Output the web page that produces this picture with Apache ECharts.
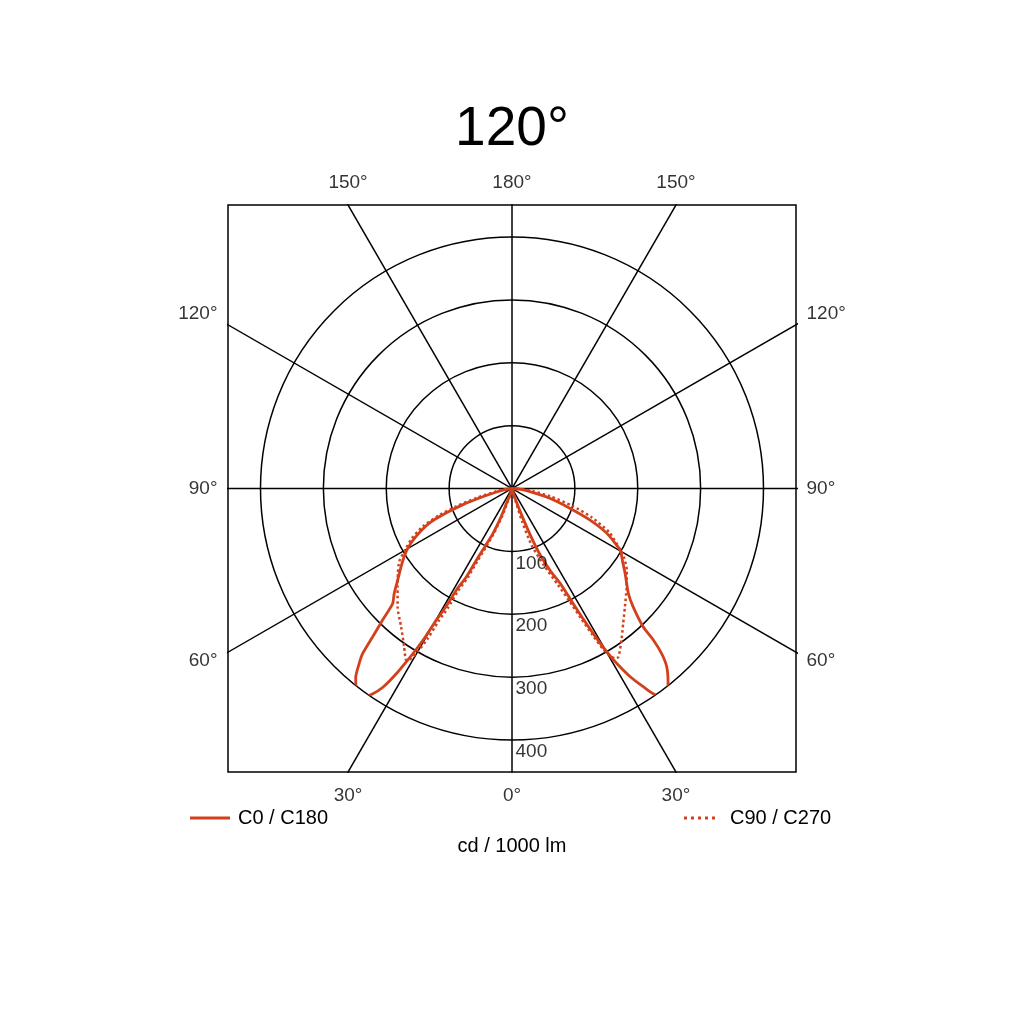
<!DOCTYPE html>
<html>
<head>
<meta charset="utf-8">
<script src="https://cdn.jsdelivr.net/npm/echarts/dist/echarts.min.js"></script>
<style>html,body{margin:0;padding:0;background:#fff}#chart{width:1024px;height:1024px}</style>
</head>
<body>
<div id="chart"></div>
<script>
// ---------- data ----------
const titleText = '120°';
const unitText = 'cd / 1000 lm';
const radiusTicks = [100, 200, 300, 400];
const spokeAngles = [0, 30, 60, 90, 120, 150];
const angleLabelValues = [0, 30, 60, 90, 120, 150, 180];

// C0 (right half, solid)
const c0Gamma = [0, 5, 10, 15, 18, 20, 21.5, 23, 25, 27, 27.8, 28.6, 29.3, 30.1, 30.9, 32.1, 33.5, 35, 37, 38.7, 41, 42.2, 43, 43.5, 45.7, 48, 53.1, 56.5, 60.3, 64.7, 68, 71.2, 75.5, 80, 85, 90];
const c0Value = [0, 1, 3, 8, 20, 45, 80, 115, 145, 170, 200, 235, 266, 300, 324, 353, 378, 401, 408, 397, 375, 354, 330, 303, 269, 249, 225, 211, 198, 167, 134, 97, 62, 29, 12, 0];
// C180 (left half, solid)
const c180Gamma = [0, 5, 10, 15, 18, 20.3, 21, 22.9, 25, 26.4, 27.3, 28.7, 29.2, 29.9, 30.3, 30.8, 31.3, 32, 33, 34.2, 35.7, 37, 39.6, 41.1, 42.1, 43.2, 44.5, 46, 48.3, 51.3, 54.8, 57.7, 60.2, 63.4, 67.3, 69.6, 71.8, 73.8, 77, 82, 90];
const c180Value = [0, 1, 3, 8, 15, 24, 47, 77, 102, 127, 158, 184, 215, 242, 273, 299, 320, 348, 377, 395, 408, 409, 390, 370, 355, 324, 294, 264, 251, 233, 216, 203, 191, 171, 142, 112, 82, 53, 25, 8, 0];
// C90 (right half, dotted)
const c90Gamma = [0, 5, 10, 14, 16, 17, 19, 22.5, 25.5, 27, 28, 28.8, 29.6, 30.5, 31.3, 32.3, 35.9, 39.5, 43.7, 48.5, 54.6, 58.7, 60.3, 65.7, 70.2, 73.9, 78.5, 82.8, 86, 90];
const c90Value = [0, 1, 3, 8, 24, 55, 95, 132, 170, 200, 235, 266, 295, 310, 316, 317, 297, 278, 260, 243, 224, 208, 199, 170, 134, 100, 62, 34, 16, 0];
// C270 (left half, dotted)
const c270Gamma = [0, 5, 10, 15, 18, 19.5, 22, 24, 25.5, 26.4, 27.8, 28.2, 29, 29.3, 30, 30.8, 31.6, 33, 34.2, 38.7, 44, 49.3, 53.4, 57, 60, 63.5, 67, 70, 72.3, 75.2, 80, 85, 90];
const c270Value = [0, 1, 3, 8, 24, 47, 77, 102, 127, 158, 184, 215, 242, 273, 299, 316, 321, 313, 305, 282, 262, 240, 226, 214, 197, 178, 154, 122, 93, 58, 25, 10, 0];

// ---------- build ----------
const FONT = 'Liberation Sans, Arial, Helvetica, sans-serif';
const RED = '#d2401c';
const H = 451;      // half size of frame in cd units
const L = 3000;     // long spoke length (clipped by the frame)
const rad = d => d * Math.PI / 180;

function halfCurve(gammas, values, side) {
  return gammas.map((g, i) => [values[i], side > 0 ? g : 360 - g]);
}
function fullCurve(lg, lv, rg, rv) {
  return halfCurve(lg, lv, -1).reverse().concat(halfCurve(rg, rv, 1));
}

const spokeSeries = spokeAngles.map(g => ({
  type: 'line',
  xAxisIndex: 0, yAxisIndex: 0,
  data: [[-L * Math.sin(rad(g)), L * Math.cos(rad(g))], [L * Math.sin(rad(g)), -L * Math.cos(rad(g))]],
  symbol: 'none', silent: true, clip: true, z: 1,
  lineStyle: { color: '#000', width: 1.5 }
}));

const angleLabelData = [];
angleLabelValues.forEach(g => {
  const sides = (g === 0 || g === 180) ? [1] : [-1, 1];
  sides.forEach(s => {
    const dx = s * Math.sin(rad(g));
    const dy = -Math.cos(rad(g));
    const t = H / Math.max(Math.abs(dx), Math.abs(dy));
    let label;
    if (Math.abs(dy) > Math.abs(dx) + 1e-9) {
      label = dy > 0 ? { position: 'top', distance: 12 } : { position: 'bottom', distance: 14 };
    } else {
      const off = Math.abs(dy) < 1e-9 ? 0 : (dy > 0 ? -11 : 9);
      label = { position: dx < 0 ? 'left' : 'right', distance: 10, offset: [0, off] };
    }
    angleLabelData.push({ name: g + '°', value: [t * dx, t * dy], label });
  });
});

const dottedIcon = 'path://M0,0h3v3h-3zM7,0h3v3h-3zM14,0h3v3h-3zM21,0h3v3h-3zM28,0h3v3h-3z';

const option = {
  animation: false,
  backgroundColor: '#fff',
  title: [
    { text: titleText, left: 'center', top: 97, textStyle: { fontSize: 55, fontWeight: 'normal', color: '#000', fontFamily: FONT } },
    { text: unitText, left: 'center', top: 831, textStyle: { fontSize: 20, fontWeight: 'normal', color: '#000', fontFamily: FONT } }
  ],
  legend: [
    { data: [{ name: 'C0 / C180', icon: 'rect' }], left: 190, top: 808, padding: 0, itemWidth: 40, itemHeight: 3,
      textStyle: { fontSize: 20, color: '#000', fontFamily: FONT, padding: [0, 0, 0, 3] } },
    { data: [{ name: 'C90 / C270', icon: dottedIcon }], left: 684, top: 808, padding: 0, itemWidth: 31, itemHeight: 3,
      textStyle: { fontSize: 20, color: '#000', fontFamily: FONT, padding: [0, 0, 0, 10] } }
  ],
  grid: { left: 228, top: 205, width: 568, height: 567, show: true, borderColor: '#000', borderWidth: 1.5, backgroundColor: 'transparent' },
  xAxis: { type: 'value', min: -H, max: H, show: false },
  yAxis: { type: 'value', min: -H, max: H, show: false },
  polar: { center: [512, 488.5], radius: 251.5 },
  angleAxis: { type: 'value', min: 0, max: 360, startAngle: 270, clockwise: false,
    axisLine: { show: false }, axisTick: { show: false }, axisLabel: { show: false }, splitLine: { show: false } },
  radiusAxis: { type: 'value', min: 0, max: 400, interval: 100,
    axisLine: { show: false }, axisTick: { show: false }, axisLabel: { show: false },
    splitLine: { show: true, lineStyle: { color: '#000', width: 1.5 } } },
  series: spokeSeries.concat([
    {
      type: 'scatter', xAxisIndex: 0, yAxisIndex: 0, symbolSize: 1, silent: true, clip: false, z: 5,
      itemStyle: { color: 'rgba(0,0,0,0)' },
      label: { show: true, formatter: '{b}', fontSize: 19, color: '#000', fontFamily: FONT },
      data: angleLabelData
    },
    {
      type: 'scatter', coordinateSystem: 'polar', symbolSize: 1, silent: true, clip: false, z: 5,
      itemStyle: { color: 'rgba(0,0,0,0)' },
      label: { show: true, formatter: p => String(p.value[0]), position: [4, 3], align: 'left', verticalAlign: 'top',
        fontSize: 19, color: '#000', fontFamily: FONT },
      data: radiusTicks.map(v => [v, 0])
    },
    {
      type: 'line', name: 'C0 / C180', coordinateSystem: 'polar', symbol: 'none', smooth: 0.2, clip: false, z: 3,
      lineStyle: { color: RED, width: 2.8 }, itemStyle: { color: RED },
      data: fullCurve(c180Gamma, c180Value, c0Gamma, c0Value)
    },
    {
      type: 'line', name: 'C90 / C270', coordinateSystem: 'polar', symbol: 'none', smooth: 0.2, clip: false, z: 3,
      lineStyle: { color: RED, width: 2.5, type: [2.5, 2.8] }, itemStyle: { color: RED },
      data: fullCurve(c270Gamma, c270Value, c90Gamma, c90Value)
    }
  ])
};

const chart = echarts.init(document.getElementById('chart'));
chart.setOption(option);
</script>
</body>
</html>
